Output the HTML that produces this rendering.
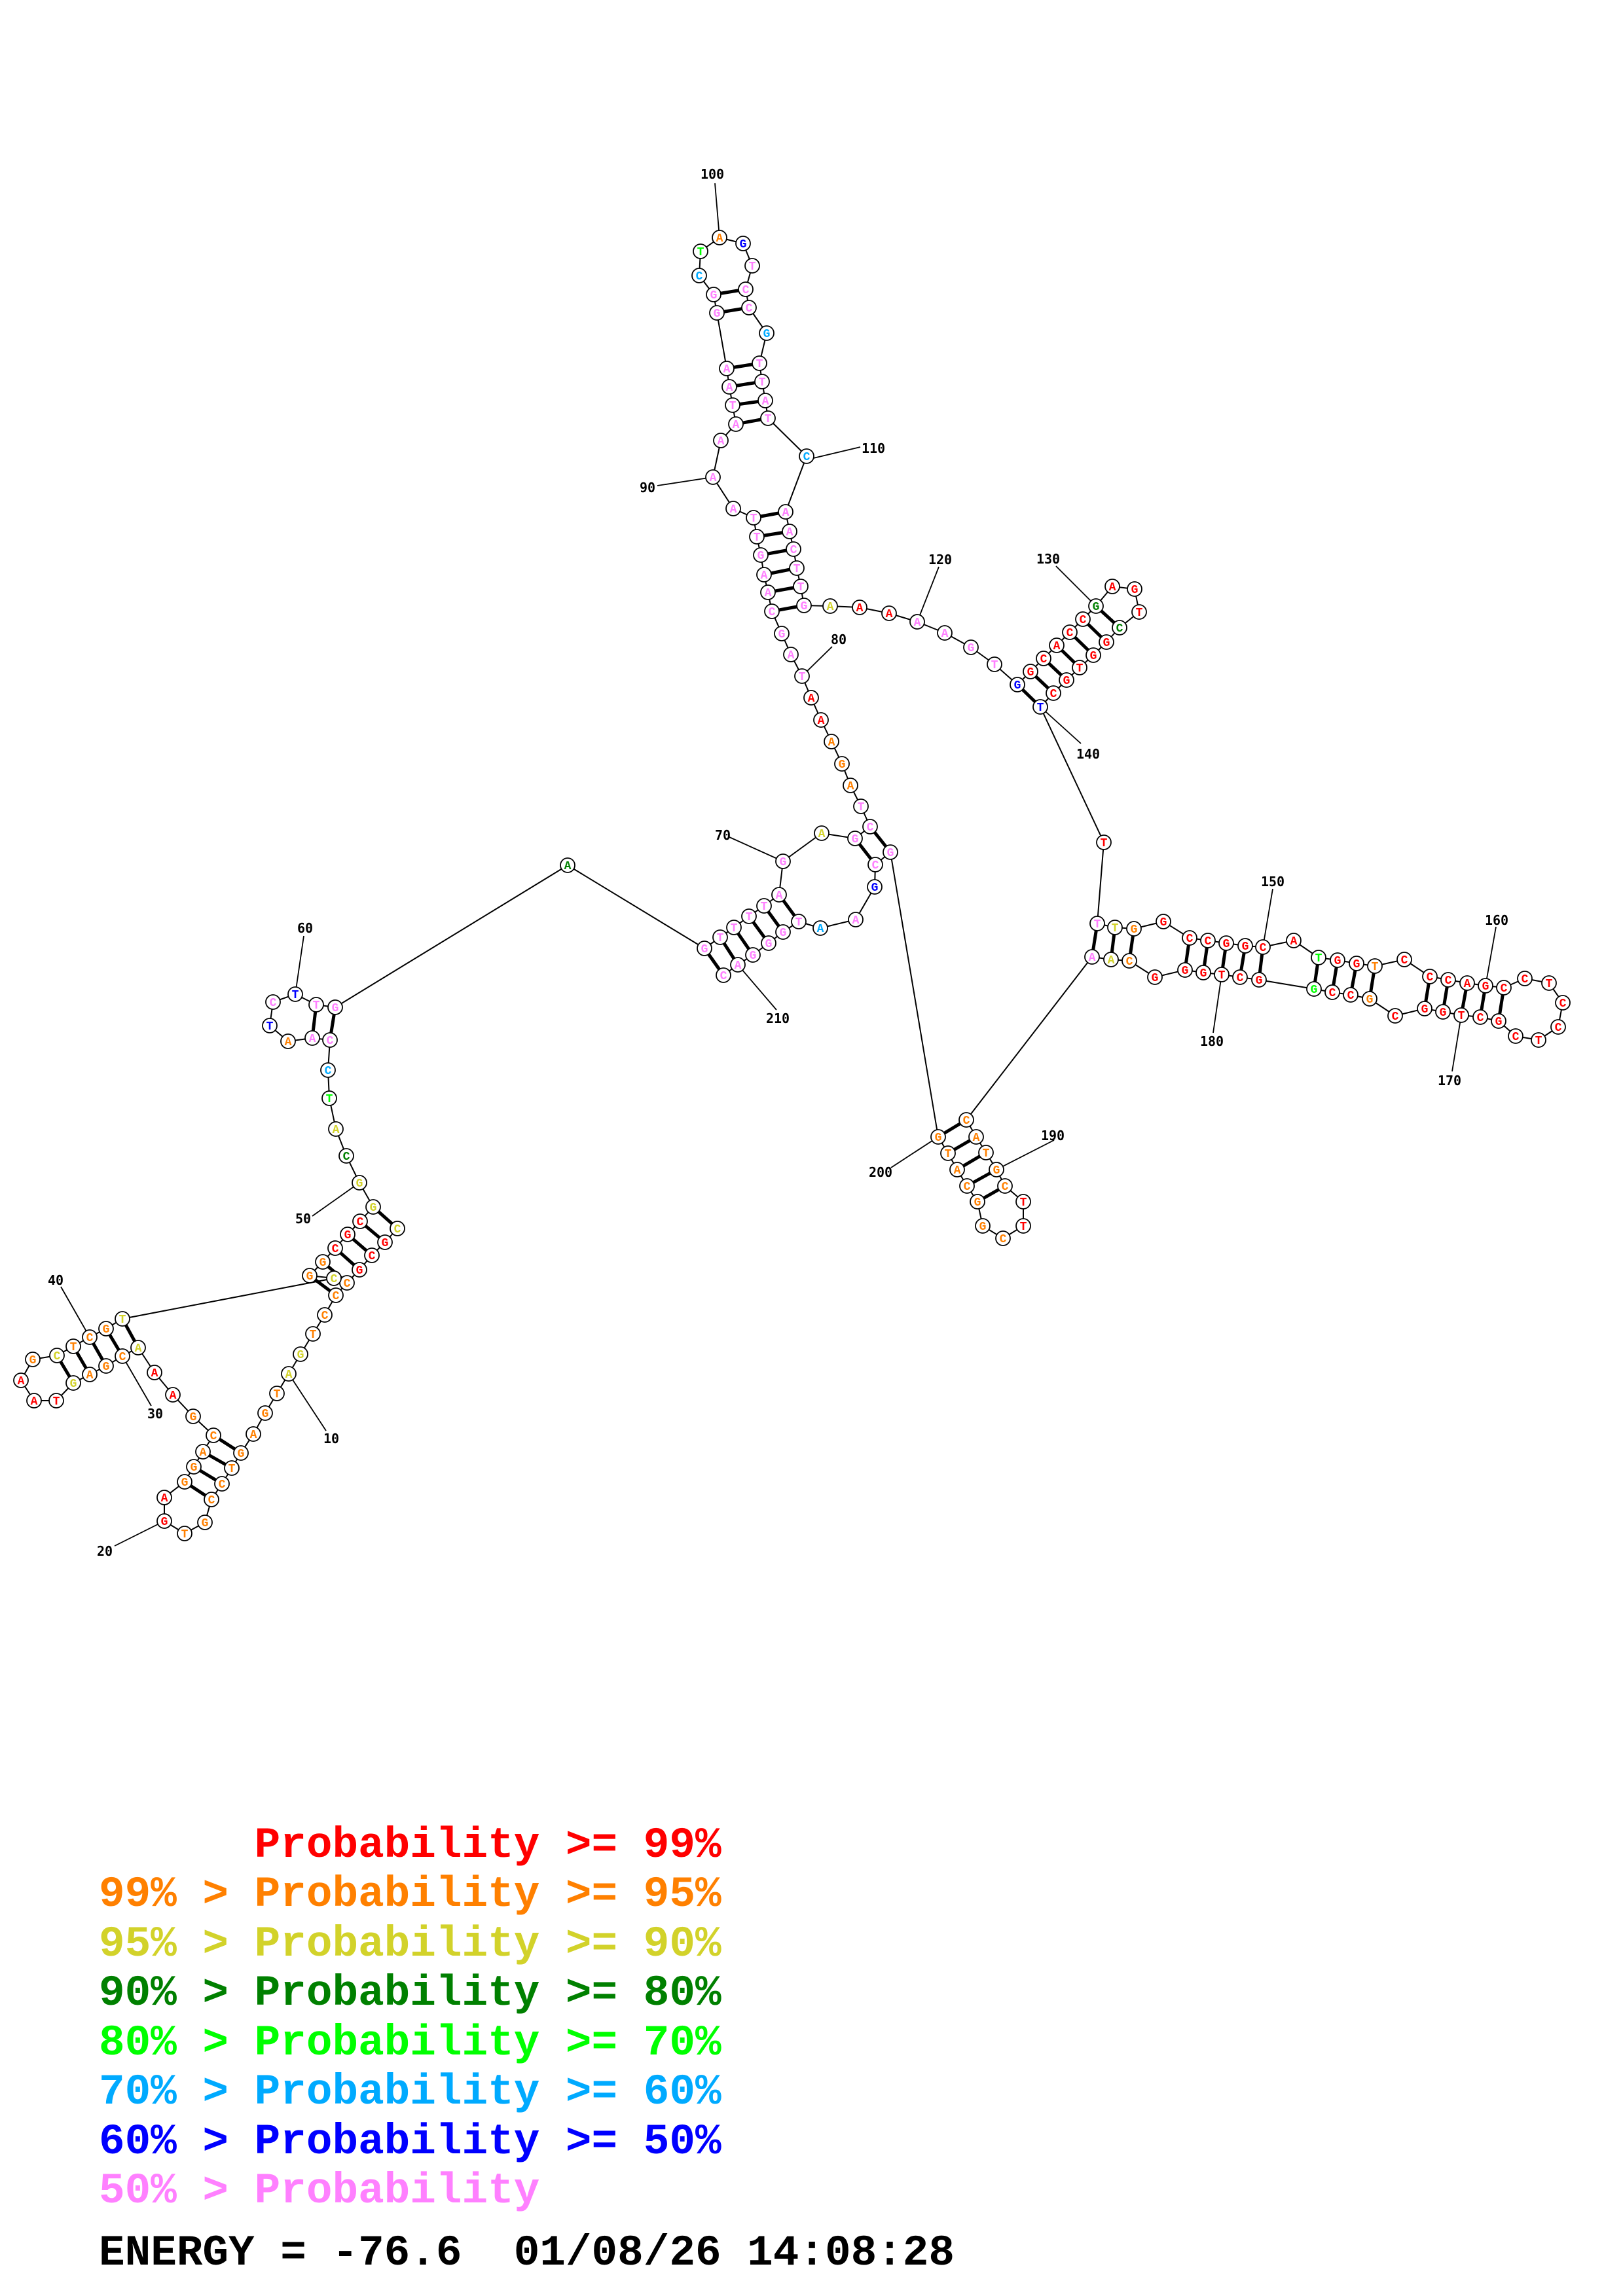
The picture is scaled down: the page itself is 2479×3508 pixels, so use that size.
<!DOCTYPE html>
<html><head><meta charset="utf-8">
<style>
html,body{margin:0;padding:0;background:#fff;}
#wrap{position:relative;width:2479px;height:3508px;overflow:hidden;background:#fff;}
svg{position:absolute;left:0;top:0;}
.leg{position:absolute;left:151px;font-family:"Liberation Mono",monospace;font-weight:bold;font-size:66px;white-space:pre;line-height:1;}
</style></head><body>
<div id="wrap">
<svg id="s" width="2479" height="3508" viewBox="0 0 2479 3508"></svg>
<div class="leg" style="top:2787px;color:#ff0000">      Probability &gt;= 99%</div>
<div class="leg" style="top:2862px;color:#ff8000">99% &gt; Probability &gt;= 95%</div>
<div class="leg" style="top:2938px;color:#d2d22a">95% &gt; Probability &gt;= 90%</div>
<div class="leg" style="top:3013px;color:#008000">90% &gt; Probability &gt;= 80%</div>
<div class="leg" style="top:3089px;color:#00ff00">80% &gt; Probability &gt;= 70%</div>
<div class="leg" style="top:3164px;color:#00aaff">70% &gt; Probability &gt;= 60%</div>
<div class="leg" style="top:3240px;color:#0000ff">60% &gt; Probability &gt;= 50%</div>
<div class="leg" style="top:3315px;color:#ff80ff">50% &gt; Probability</div>
<div class="leg" style="top:3410px;color:#000">ENERGY = -76.6  01/08/26 14:08:28</div>
</div>
<script>
var seq="CGCGCCCTGA"+"TGAGTCCGTG"+"AGGACGAAAC"+"GAGTAAGCTC"+"GTCGGCGCGG"+"CATCCAATCT"+"TGAGTTTTAG"+"AGCTAGAAAT"+"AGCAAGTTAA"+"AATAAGGCTA"+"GTCCGTTATC"+"AACTTGAAAA"+"AGTGGCACCG"+"AGTCGGTGCT"+"TTTGGCCGGC"+"ATGGTCCCAG"+"CCTCCTCGCT"+"GGCGCCGGCT"+"GGGCAACATG"+"CTTCGGCATG"+"GCGAATGGGAC";
var col="yrrroooyy".slice(0,0)+"yrrroooo yy".replace(" ","")+"oooooooooor"+"".slice(0)+"";
col="yrrrooooyy"+"ooooooooor"+"rooooorryo"+"ooyrrroyoo"+"oyyoorrryy"+"dygcppobpb"+"ppdppppppp"+"ypppooorrp"+"pppppppppp"+"pppppppcgo"+"bpppcppppc"+"ppppppyrrp"+"pppbrrrrrd"+"rrrdrrrrrb"+"rpyorrrrrr"+"rgrrorrrrr"+"rrrrrrrrrr"+"rrrorrgrrr"+"rrroypoooo"+"orroooooooo".slice(0,10)+"ppbpcpppppp";
var P=[[607,1877],[588,1898],[568,1918],[549,1940],[530,1960],[513,1979],[496,2009],[478,2038],[459,2069],[441,2099],
[423,2129],[405,2159],[387,2191],[368,2220],[354,2243],[339,2267],[323,2291],[313,2326],[282,2343],[251,2324],
[251,2288],[282,2264],[296,2241],[310,2218],[326,2193],[295,2164],[264,2131],[236,2097],[211,2059],[187,2072],
[162,2087],[137,2100],[112,2113],[86,2140],[52,2140],[32,2109],[50,2077],[87,2071],[112,2057],[137,2043],
[162,2030],[187,2015],[510,1953],[473,1949],[493,1928],[512,1907],[531,1886],[550,1866],[570,1844],[549,1807],
[529,1766],[513,1725],[503,1678],[501,1635],[504,1589],[477,1586],[440,1591],[412,1567],[417,1531],[451,1519],
[483,1535],[512,1539],[867,1322],[1076,1449],[1100,1432],[1121,1417],[1144,1400],[1167,1384],[1190,1367],[1196,1316],
[1255,1273],[1306,1281],[1329,1263],[1315,1232],[1299,1200],[1286,1167],[1270,1133],[1254,1100],[1239,1066],[1225,1033],
[1208,1000],[1194,968],[1179,934],[1173,905],[1167,878],[1162,848],[1156,820],[1151,791],[1120,777],[1089,729],
[1101,673],[1124,648],[1119,619],[1114,591],[1110,563],[1095,478],[1090,450],[1068,421],[1070,384],[1099,363],
[1135,372],[1149,406],[1139,442],[1144,470],[1171,509],[1160,555],[1164,583],[1169,612],[1173,639],[1232,697],
[1200,782],[1206,812],[1212,839],[1217,868],[1223,896],[1228,925],[1268,926],[1313,928],[1358,937],[1401,950],
[1443,967],[1483,989],[1519,1015],[1554,1046],[1574,1026],[1594,1006],[1614,986],[1634,966],[1654,946],[1674,926],
[1699,896],[1733,900],[1740,935],[1710,959],[1690,981],[1670,1001],[1649,1020],[1629,1039],[1609,1059],[1589,1080],
[1686,1287],[1676,1411],[1703,1417],[1732,1419],[1777,1408],[1817,1433],[1845,1437],[1873,1441],[1902,1445],[1929,1447],
[1976,1437],[2014,1463],[2043,1467],[2072,1472],[2100,1476],[2145,1466],[2184,1492],[2212,1497],[2241,1502],[2269,1506],
[2297,1509],[2329,1495],[2366,1502],[2387,1532],[2380,1569],[2350,1589],[2315,1583],[2289,1560],[2261,1554],[2232,1551],
[2204,1546],[2176,1541],[2131,1552],[2092,1526],[2063,1520],[2035,1516],[2007,1511],[1923,1497],[1894,1493],[1866,1489],
[1838,1486],[1810,1482],[1764,1493],[1725,1468],[1697,1466],[1668,1462],[1476,1711],[1491,1737],[1506,1761],[1522,1787],
[1535,1812],[1563,1836],[1563,1873],[1532,1892],[1501,1873],[1493,1836],[1477,1812],[1462,1787],[1448,1762],[1433,1737],
[1360,1302],[1337,1321],[1336,1355],[1307,1405],[1253,1418],[1220,1408],[1196,1424],[1174,1441],[1150,1459],[1127,1474],[1105,1490]];
var pairs=[[1,49],[2,48],[3,47],[4,46],[5,45],[6,44],[14,25],[15,24],[16,23],[17,22],[29,42],[30,41],[31,40],[32,39],[33,38],
[55,62],[56,61],[64,211],[65,210],[66,209],[67,208],[68,207],[69,206],[72,202],[73,201],[83,116],[84,115],[85,114],[86,113],[87,112],[88,111],
[92,109],[93,108],[94,107],[95,106],[96,104],[97,103],[124,140],[125,139],[126,138],[127,137],[128,136],[129,135],[130,134],
[142,186],[143,185],[144,184],[146,182],[147,181],[148,180],[149,179],[150,178],[152,177],[153,176],[154,175],[155,174],
[157,172],[158,171],[159,170],[160,169],[161,168],[187,200],[188,199],[189,198],[190,197],[191,196]];
var C={r:"#ff0000",o:"#ff8000",y:"#d2d22a",d:"#008000",g:"#00ff00",c:"#00aaff",b:"#0000ff",p:"#ff80ff"};
var labels=[["100",1088,266,1092,280,1099,363],["90",989,745,1004,742,1089,729],["110",1334,685,1314,683,1234,702],
["80",1281,977,1271,988,1225,1033],["120",1436,855,1434,866,1401,950],["130",1601,854,1613,865,1674,926],
["140",1662,1152,1651,1136,1589,1080],["150",1944,1347,1944,1358,1929,1447],["180",1851,1591,1853,1578,1866,1489],
["160",2286,1406,2285,1416,2269,1506],["170",2214,1651,2218,1637,2232,1551],["190",1608,1735,1610,1742,1522,1787],
["200",1345,1791,1361,1784,1433,1737],["210",1188,1556,1186,1543,1127,1474],["70",1104,1276,1114,1279,1196,1316],
["60",466,1418,464,1430,451,1519],["50",463,1862,477,1858,549,1807],["40",85,1956,93,1966,137,2043],
["30",237,2160,231,2148,187,2072],["10",506,2198,498,2186,441,2099],["20",160,2370,175,2362,251,2324]];
var h="";
for(var i=0;i<labels.length;i++){var L=labels[i];
h+='<line x1="'+L[3]+'" y1="'+L[4]+'" x2="'+L[5]+'" y2="'+L[6]+'" stroke="#000" stroke-width="1.8"/>';}
for(var i=0;i<P.length-1;i++){h+='<line x1="'+P[i][0]+'" y1="'+P[i][1]+'" x2="'+P[i+1][0]+'" y2="'+P[i+1][1]+'" stroke="#000" stroke-width="2"/>';}
for(var i=0;i<pairs.length;i++){var a=P[pairs[i][0]-1],b=P[pairs[i][1]-1];
h+='<line x1="'+a[0]+'" y1="'+a[1]+'" x2="'+b[0]+'" y2="'+b[1]+'" stroke="#000" stroke-width="5"/>';}
for(var i=0;i<P.length;i++){var p=P[i];
h+='<circle cx="'+p[0]+'" cy="'+p[1]+'" r="11" fill="#fff" stroke="#000" stroke-width="1.8"/>';
h+='<text x="'+p[0]+'" y="'+(p[1]+6)+'" text-anchor="middle" font-family="Liberation Mono,monospace" font-weight="bold" font-size="18" fill="'+(C[col.charAt(i)]||"#ff80ff")+'">'+seq.charAt(i)+'</text>';}
for(var i=0;i<labels.length;i++){var L=labels[i];
h+='<text x="'+L[1]+'" y="'+(L[2]+7)+'" text-anchor="middle" font-family="DejaVu Sans Mono,Liberation Mono,monospace" font-weight="bold" font-size="20" fill="#000">'+L[0]+'</text>';}
document.getElementById("s").innerHTML=h;
</script>
</body></html>
